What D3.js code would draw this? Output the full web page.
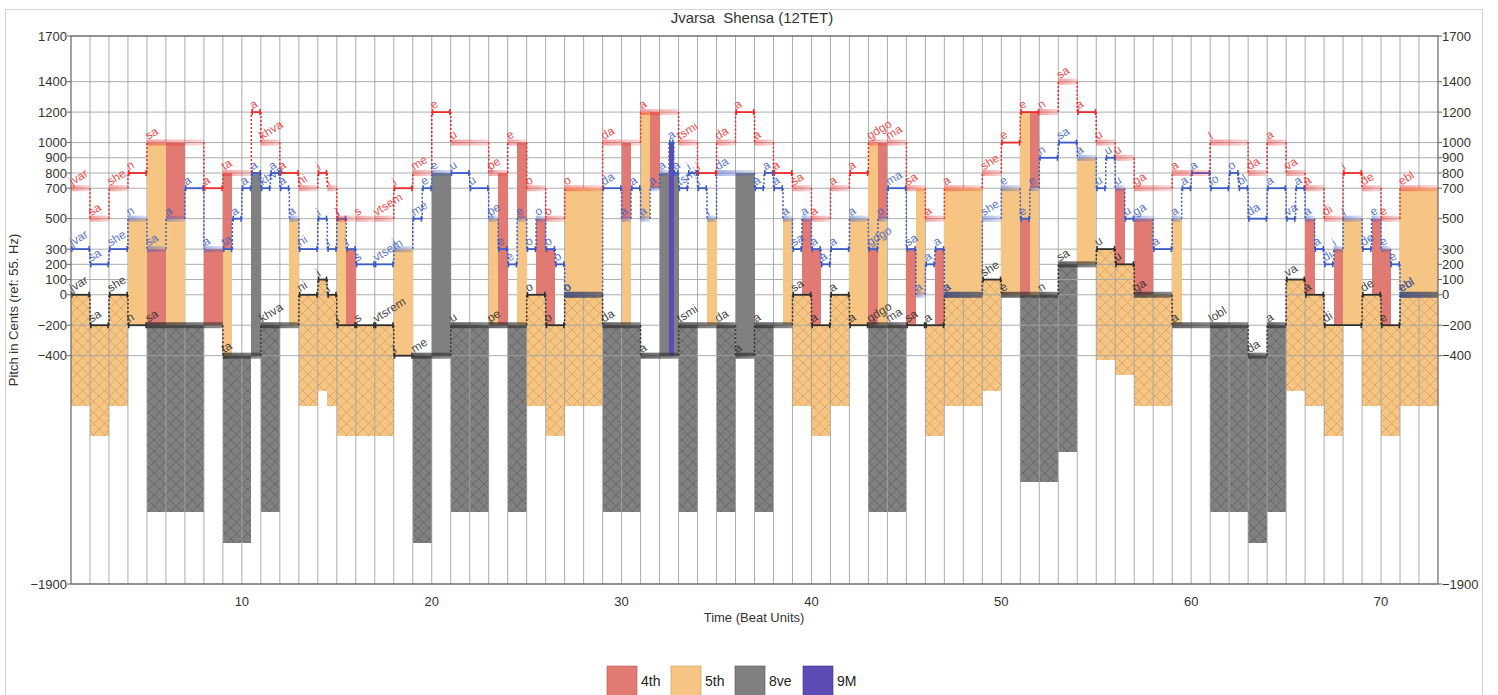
<!DOCTYPE html>
<html><head><meta charset="utf-8">
<script src="https://cdn.jsdelivr.net/npm/d3@7"></script>
<style>body{margin:0;background:#fff;} svg text{font-family:"Liberation Sans",Arial,sans-serif;}</style>
</head><body><svg id="c" width="1498" height="695"></svg>
<script>
// ---------- data ----------
const title = "Jvarsa  Shensa (12TET)";
const yTicks = [1700,1400,1200,1000,900,800,700,500,300,200,100,0,-200,-400,-1900];
const xTicks = [10,20,30,40,50,60,70];
const intervalNames = ["4th","5th","8ve","9M"];
const intervalCents = [500,700,1200,1400];
const intervalColors = ["#e07a73","#f6c583","#7f807f","#5e4bb6"];
const mirrorDepth = [null,730,1230,null];
// [start beat, end beat, cents, syllable, held]
const topVoice = [
[1,2,700,"jvar",1],[2,3,500,"sa",1],[3,4,700,"she",1],[4,5,800,"n",0],[5,8,1000,"sa",1],
[8,9,700,"a",0],[9,10.5,800,"ta",1],[10.5,11,1200,"a",0],[11,12,1000,"khva",1],[12,13,800,"a",0],
[13,14,700,"ni",1],[14,14.5,800,"i",0],[14.5,15,700,"i",1],[15,16,500,"i",1],[16,17,500,"s",1],
[17,18,500,"vtsem",1],[18,19,700,"i",0],[19,20,800,"me",1],[20,21,1200,"e",0],[21,23,1000,"u",1],
[23,24,800,"pe",1],[24,25,1000,"e",1],[25,26,700,"o",1],[26,27,500,"o",1],[27,29,700,"o",1],
[29,31,1000,"da",1],[31,33,1200,"a",1],[33,34,1000,"tsmi",1],[34,35,800,"i",0],[35,36,1000,"da",1],
[36,37,1200,"a",0],[37,38,1000,"a",1],[38,39,800,"a",0],[39,40,700,"sa",1],[40,41,500,"a",1],
[41,42,700,"a",1],[42,43,800,"a",0],[43,44,1000,"gdgo",1],[44,45,1000,"ma",1],[45,46,700,"sa",1],
[46,47,500,"a",1],[47,49,700,"a",1],[49,50,800,"she",1],[50,51,1000,"e",0],[51,52,1200,"e",0],
[52,53,1200,"n",1],[53,54,1400,"sa",1],[54,55,1200,"a",0],[55,56,1000,"u",1],[56,57,900,"u",1],
[57,59,700,"ga",1],[59,61,800,"a",1],[61,63,1000,"l",1],[63,64,800,"da",1],[64,65,1000,"a",1],
[65,66,800,"va",1],[66,67,700,"a",1],[67,68,500,"di",1],[68,69,800,"i",0],[69,70,700,"de",1],
[70,71,500,"e",1],[71,73,700,"ebl",1]
];
const midVoice = [
[1,2,300,"jvar",0],[2,3,200,"sa",0],[3,4,300,"she",0],[4,5,500,"n",1],[5,6,300,"sa",1],
[6,7,500,"a",1],[7,8,700,"a",0],[8,9,300,"a",1],[9,9.5,300,"ta",0],[9.5,10,500,"a",0],
[10,10.5,700,"a",0],[10.5,11,800,"a",0],[11,11.5,700,"khva",0],[11.5,12,800,"a",0],[12,12.5,700,"a",0],
[12.5,13,500,"a",1],[13,14,300,"ni",0],[14,14.5,500,"i",0],[14.5,15,300,"i",0],[15,15.5,500,"i",0],
[15.5,16,300,"i",0],[16,17,200,"s",0],[17,18,200,"vtsem",0],[18,19,300,"i",1],[19,19.5,500,"me",0],
[19.5,20,700,"e",0],[20,21,800,"e",1],[21,22,800,"u",0],[22,23,700,"u",0],[23,23.5,500,"pe",1],
[23.5,24,300,"e",0],[24,24.5,200,"e",0],[24.5,25,500,"e",1],[25,25.5,300,"o",0],[25.5,26,500,"o",1],
[26,26.5,300,"o",0],[26.5,27,200,"o",0],[27,29,0,"o",1],[29,30,700,"da",0],[30,30.5,500,"a",1],
[30.5,31,700,"a",0],[31,31.5,500,"a",1],[31.5,32,700,"a",1],[32,32.5,800,"a",1],[32.5,32.75,1000,"a",0],
[32.75,33,800,"a",0],[33,33.5,700,"tsmi",0],[33.5,34,800,"i",0],[34,34.5,700,"i",0],[34.5,35,500,"i",1],
[35,37,800,"da",1],[37,37.5,700,"a",0],[37.5,38,800,"a",0],[38,38.5,700,"a",0],[38.5,39,500,"a",1],
[39,39.5,300,"sa",0],[39.5,40,500,"a",1],[40,40.5,300,"a",0],[40.5,41,200,"a",0],[41,42,300,"a",0],
[42,43,500,"a",1],[43,43.5,300,"gdgo",0],[43.5,44,500,"o",1],[44,45,700,"ma",0],[45,45.5,300,"sa",0],
[45.5,46,0,"a",1],[46,46.5,200,"a",0],[46.5,47,300,"a",0],[47,49,0,"a",1],[49,50,500,"she",1],
[50,51,700,"e",1],[51,51.5,500,"e",0],[51.5,52,700,"e",1],[52,53,900,"n",0],[53,54,1000,"sa",0],
[54,55,900,"a",1],[55,55.5,700,"u",0],[55.5,56,900,"u",0],[56,56.5,700,"u",1],[56.5,57,500,"u",0],
[57,58,500,"ga",1],[58,59,300,"a",0],[59,59.5,500,"a",1],[59.5,60,700,"a",0],[60,61,800,"a",0],
[61,62,700,"lo",0],[62,62.5,800,"o",0],[62.5,63,700,"bl",0],[63,64,500,"da",0],[64,65,700,"a",0],
[65,65.5,500,"va",0],[65.5,66,700,"a",0],[66,66.5,500,"a",1],[66.5,67,300,"a",0],[67,67.5,200,"di",0],
[67.5,68,300,"i",1],[68,69,500,"i",1],[69,69.5,300,"de",0],[69.5,70,500,"e",1],[70,70.5,300,"e",1],
[70.5,71,200,"e",0],[71,73,0,"ebl",1]
];
const bassVoice = [
[1,2,0,"jvar",0],[2,3,-200,"sa",0],[3,4,0,"she",0],[4,5,-200,"n",0],[5,9,-200,"sa",1],
[9,11,-400,"ta",1],[11,13,-200,"khva",1],[13,14,0,"ni",0],[14,14.5,100,"i",0],[14.5,15,0,"i",0],
[15,16,-200,"i",0],[16,17,-200,"s",0],[17,18,-200,"vtsrem",0],[18,19,-400,"i",0],[19,21,-400,"me",1],
[21,23,-200,"u",1],[23,25,-200,"pe",1],[25,26,0,"o",0],[26,27,-200,"o",0],[27,29,0,"o",1],
[29,31,-200,"da",1],[31,33,-400,"a",1],[33,35,-200,"tsmi",1],[35,36,-200,"da",1],[36,37,-400,"a",1],
[37,39,-200,"a",1],[39,40,0,"sa",0],[40,41,-200,"a",0],[41,42,0,"a",0],[42,43,-200,"a",0],
[43,44,-200,"gdgo",1],[44,45,-200,"ma",1],[45,46,-200,"sa",0],[46,47,-200,"a",0],[47,49,0,"a",1],
[49,50,100,"she",0],[50,52,0,"e",1],[52,53,0,"n",1],[53,55,200,"sa",1],[55,56,300,"u",0],
[56,57,200,"u",0],[57,59,0,"ga",1],[59,61,-200,"a",1],[61,63,-200,"lobl",1],[63,64,-400,"da",1],
[64,65,-200,"a",1],[65,66,100,"va",0],[66,67,0,"a",0],[67,69,-200,"di",0],[69,70,0,"de",0],
[70,71,-200,"e",0],[71,73,0,"ebl",1]
];
const voiceColors = ["#ee2a2a","#3a5bc8","#2e2e2e"];

// ---------- drawing ----------
const svg = d3.select("#c");
const L=71,R=1438,T=36,B=584;
const x = d3.scaleLinear().domain([1,73]).range([L,R]);
const y = d3.scaleLinear().domain([-1900,1700]).range([B,T]);

svg.append("rect").attr("x",5.5).attr("y",9.5).attr("width",1477).attr("height",700)
  .attr("fill","none").attr("stroke","#d6d6d6");

svg.append("text").attr("x",752).attr("y",23).attr("text-anchor","middle")
  .style("white-space","pre").attr("xml:space","preserve")
  .attr("font-size",15).attr("fill","#333").text(title);

const defs = svg.append("defs");
const darker = ["#b25a55","#c79656","#555","#3c2f86"];
intervalColors.forEach((c,i)=>{
  const p = defs.append("pattern").attr("id","h"+i).attr("patternUnits","userSpaceOnUse")
    .attr("width",11).attr("height",11);
  p.append("rect").attr("width",11).attr("height",11).attr("fill",c);
  p.append("path").attr("d","M0,0L11,11M11,0L0,11M-1,10L1,12M10,-1L12,1M-1,1L1,-1M10,12L12,10")
    .attr("stroke",darker[i]).attr("stroke-width",0.6).attr("fill","none");
});
voiceColors.forEach((c,i)=>{
  const g = defs.append("linearGradient").attr("id","band"+i);
  g.append("stop").attr("offset","0%").attr("stop-color",c).attr("stop-opacity",i==2?0.75:0.45);
  g.append("stop").attr("offset","100%").attr("stop-color",c).attr("stop-opacity",i==2?0.55:0.18);
});

svg.append("rect").attr("x",L).attr("y",T).attr("width",R-L).attr("height",B-T).attr("fill","#fff");

const voices=[topVoice,midVoice,bassVoice];
const bounds = Array.from(new Set(voices.flatMap(v=>v.flatMap(n=>[n[0],n[1]])))).sort((a,b)=>a-b);
const slices=[];
for(let i=0;i<bounds.length-1;i++){
  const a=bounds[i],b=bounds[i+1],m=(a+b)/2;
  const p=voices.map(v=>v.find(n=>n[0]<=m&&n[1]>m));
  if(p.every(d=>d)) slices.push({a,b,t:p[0][2],m:p[1][2],s:p[2][2]});
}

const gH = svg.append("g");
slices.forEach(s=>{
  const k=intervalCents.indexOf(s.t-s.s);
  if(k>=0 && mirrorDepth[k]){
    gH.append("rect").attr("x",x(s.a)).attr("width",x(s.b)-x(s.a))
      .attr("y",y(s.s)).attr("height",y(s.s-mirrorDepth[k])-y(s.s))
      .attr("fill","url(#h"+k+")").attr("shape-rendering","crispEdges");
  }
});

const gG = svg.append("g").attr("stroke","#a3a3a3").attr("stroke-width",0.9);
d3.range(2,73).forEach(b=>gG.append("line").attr("x1",x(b)).attr("x2",x(b)).attr("y1",T).attr("y2",B));
yTicks.forEach(v=>gG.append("line").attr("x1",L).attr("x2",R).attr("y1",y(v)).attr("y2",y(v)));

const gF = svg.append("g");
slices.forEach(s=>{
  [[s.t,s.m],[s.m,s.s]].forEach(([hi,lo])=>{
    const k=intervalCents.indexOf(hi-lo);
    if(k>=0) gF.append("rect").attr("x",x(s.a)).attr("width",x(s.b)-x(s.a))
      .attr("y",y(hi)).attr("height",y(lo)-y(hi)).attr("fill",intervalColors[k])
      .attr("shape-rendering","crispEdges");
  });
});

const order=[2,1,0];
order.forEach(vi=>{
  const v=voices[vi], col=voiceColors[vi];
  const g=svg.append("g");
  v.forEach((n,j)=>{
    const x0=x(n[0]),x1=x(n[1]),yy=y(n[2]);
    if(j>0){
      const p=v[j-1];
      if(p[2]!==n[2]) g.append("line").attr("x1",x0).attr("x2",x0).attr("y1",y(p[2])).attr("y2",yy)
        .attr("stroke",col).attr("stroke-width",1.5).attr("stroke-dasharray","2,2");
    }
    if(n[4]){
      g.append("rect").attr("x",x0).attr("width",x1-x0).attr("y",yy-3).attr("height",6)
        .attr("fill","url(#band"+vi+")");
    } else {
      g.append("line").attr("x1",x0).attr("x2",x1).attr("y1",yy).attr("y2",yy)
        .attr("stroke",col).attr("stroke-width",1.8);
      [x0+0.8,x1-0.8].forEach(xx=>g.append("line").attr("x1",xx).attr("x2",xx)
        .attr("y1",yy-3).attr("y2",yy+3).attr("stroke",col).attr("stroke-width",1.6));
    }
  });
});
order.forEach(vi=>{
  const v=voices[vi], col=voiceColors[vi];
  v.forEach(n=>{
    const x0=x(n[0])+1.5, yy=y(n[2])-2.5;
    svg.append("text").attr("transform",`translate(${x0},${yy}) rotate(-32)`)
      .attr("font-size",12).attr("fill",col).attr("fill-opacity",vi==2?0.9:0.85).text(n[3]);
  });
});

svg.append("rect").attr("x",L).attr("y",T).attr("width",R-L).attr("height",B-T)
  .attr("fill","none").attr("stroke","#666").attr("stroke-width",1.2);

yTicks.forEach(v=>{
  const lab = v<0?"\u2212"+(-v):String(v);
  svg.append("text").attr("x",L-4).attr("y",y(v)+4.5).attr("text-anchor","end")
    .attr("font-size",13).attr("fill","#333").text(lab);
  svg.append("text").attr("x",R+4).attr("y",y(v)+4.5).attr("text-anchor","start")
    .attr("font-size",13).attr("fill","#333").text(lab);
  svg.append("line").attr("x1",L-4).attr("x2",L).attr("y1",y(v)).attr("y2",y(v)).attr("stroke","#666");
  svg.append("line").attr("x1",R).attr("x2",R+4).attr("y1",y(v)).attr("y2",y(v)).attr("stroke","#666");
});
xTicks.forEach(t=>{
  svg.append("text").attr("x",x(t)).attr("y",B+22).attr("text-anchor","middle")
    .attr("font-size",13).attr("fill","#333").text(t);
});
svg.append("text").attr("x",754).attr("y",622).attr("text-anchor","middle")
  .attr("font-size",13).attr("fill","#333").text("Time (Beat Units)");
svg.append("text").attr("transform","translate(18,310) rotate(-90)").attr("text-anchor","middle")
  .attr("font-size",13).attr("fill","#333").text("Pitch in Cents (ref: 55. Hz)");

const lx=[607,671,735,803];
intervalNames.forEach((nm,i)=>{
  svg.append("rect").attr("x",lx[i]).attr("y",666).attr("width",30).attr("height",30)
    .attr("fill",intervalColors[i]).attr("stroke",darker[i]).attr("stroke-width",0.6);
  svg.append("text").attr("x",lx[i]+34).attr("y",686).attr("font-size",14).attr("fill","#222").text(nm);
});
</script></body></html>
